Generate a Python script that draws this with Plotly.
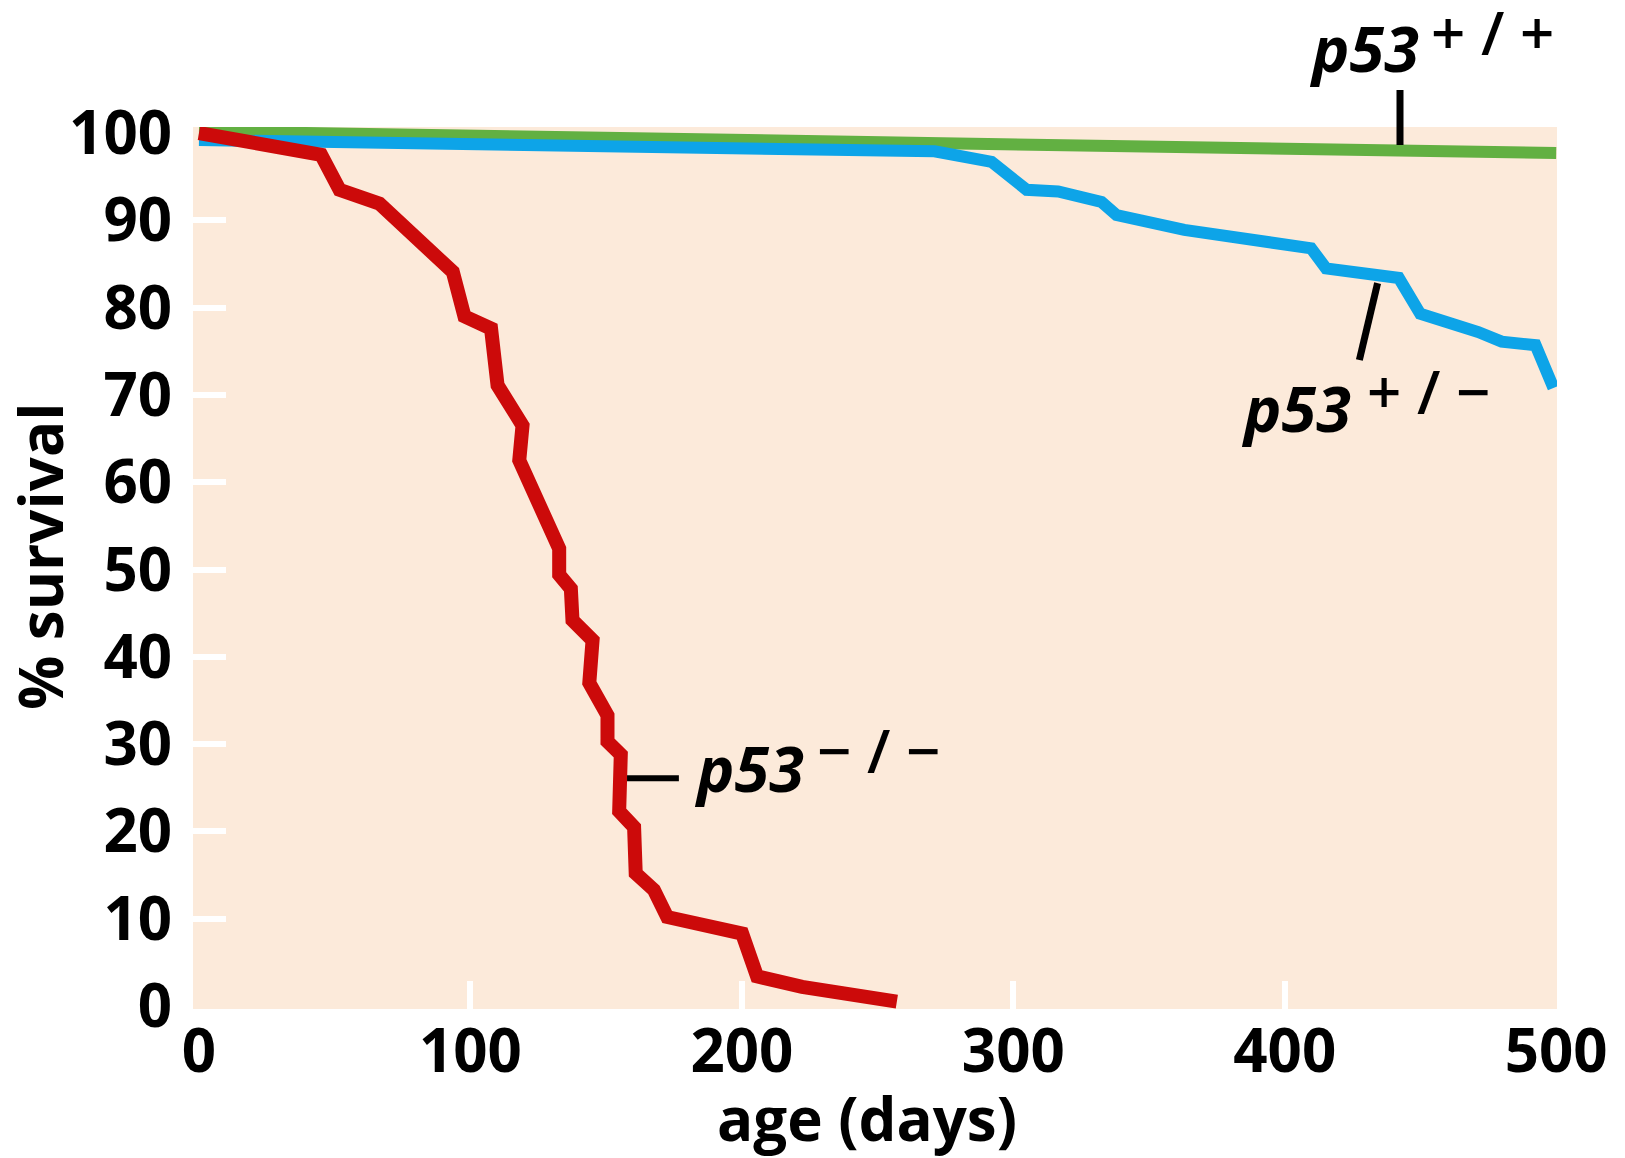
import plotly.graph_objects as go

# ---- data ----
red_days = [0, 45, 51.8, 66.5, 93.5, 97.8, 107.6, 110, 119.2, 118, 132.7, 132.7, 137, 137.6,
            145, 143.8, 150.5, 150.5, 155.4, 154.8, 160.3, 160.9, 167.6, 172.5, 200.1,
            205.6, 222.2, 257.1]
red_surv = [100, 97.5, 93.5, 91.9, 84.1, 79.0, 77.6, 71.1, 66.5, 62.5, 52.4, 49.4, 47.8, 44.2,
            41.9, 37.0, 33.3, 30.3, 28.8, 22.3, 20.5, 15.2, 13.3, 10.2, 8.3,
            3.4, 2.2, 0.5]

blue_days = [0, 190, 271, 292, 304.9, 316.5, 332.5, 338, 363, 409.7, 415.2, 442, 449.9,
             471.3, 479.9, 492.4, 499]
blue_surv = [99.2, 98.3, 97.9, 96.7, 93.5, 93.3, 92.1, 90.6, 88.9, 86.8, 84.5, 83.4, 79.3,
             77.2, 76.1, 75.7, 70.8]

green_days = [0, 500]
green_surv = [100.2, 97.7]

x_ticks = [0, 100, 200, 300, 400, 500]
y_ticks = [0, 10, 20, 30, 40, 50, 60, 70, 80, 90, 100]
x_minor = [100, 200, 300, 400]
y_minor = [10, 20, 30, 40, 50, 60, 70, 80, 90]

RED = "#CC0A0A"
BLUE = "#0DA4E8"
GREEN = "#62B042"
PEACH = "#FCEADA"
FONT = "Open Sans"

fig = go.Figure()
fig.add_trace(go.Scatter(x=green_days, y=green_surv, mode="lines",
                         line=dict(color=GREEN, width=12), hoverinfo="skip"))
fig.add_trace(go.Scatter(x=blue_days, y=blue_surv, mode="lines",
                         line=dict(color=BLUE, width=12), hoverinfo="skip"))
fig.add_trace(go.Scatter(x=red_days, y=red_surv, mode="lines",
                         line=dict(color=RED, width=14), hoverinfo="skip"))

tickfont = dict(family=FONT, size=60, color="black", weight=700)

# page body has an 8px margin, so the figure is drawn 8px in from the top-left
fig.update_layout(
    width=1617, height=1150,
    margin=dict(l=185, r=68, t=119, b=149, pad=0),
    paper_bgcolor="white", plot_bgcolor=PEACH,
    showlegend=False,
    xaxis=dict(range=[-2.2, 500.3], tickmode="array", tickvals=x_ticks,
               ticktext=[str(v) for v in x_ticks], ticks="", showgrid=False,
               zeroline=False, showline=False, tickfont=tickfont,
               ticklabelstandoff=2, automargin=False,
               minor=dict(tickmode="array", tickvals=x_minor, ticks="inside",
                          ticklen=28, tickwidth=6, tickcolor="white", showgrid=False)),
    yaxis=dict(range=[-0.34, 100.69], tickmode="array", tickvals=y_ticks,
               ticktext=[str(v) for v in y_ticks], ticks="", showgrid=False,
               zeroline=False, showline=False, tickfont=tickfont,
               ticklabelstandoff=20, automargin=False,
               minor=dict(tickmode="array", tickvals=y_minor, ticks="inside",
                          ticklen=33, tickwidth=6, tickcolor="white", showgrid=False)),
)

# axis titles
fig.add_annotation(text="<b>age (days)</b>", xref="paper", yref="paper",
                   x=0.494, y=-0.124, xanchor="center", yanchor="middle",
                   showarrow=False, font=dict(family=FONT, size=60, color="black"))
fig.add_annotation(text="<b>% survival</b>", xref="paper", yref="paper",
                   x=-0.1127, y=0.513, xanchor="center", yanchor="middle", textangle=-90,
                   showarrow=False, font=dict(family=FONT, size=60, color="black"))

# genotype labels
lab_font = dict(family=FONT, size=63, color="black")
sup_font = dict(family=FONT, size=60, color="black", weight=600)


def px(fx):
    return (fx - 193) / 1364.0


def py(fy):
    return (1009 - fy) / 882.0


def label(x, y, sup, sx, sy):
    fig.add_annotation(text="<b><i>p53</i></b>", xref="paper", yref="paper",
                       x=px(x), y=py(y), xanchor="left", yanchor="middle",
                       showarrow=False, font=lab_font)
    fig.add_annotation(text=sup, xref="paper", yref="paper",
                       x=px(sx), y=py(sy), xanchor="left", yanchor="middle",
                       showarrow=False, font=sup_font)


label(1307, 48, "+ / +", 1429, 32)
label(1239, 407, "+ / \u2212", 1365, 391)
label(692, 767, "\u2212 / \u2212", 815, 750)

# pointer lines
fig.add_shape(type="line", xref="paper", yref="paper",
              x0=px(1400), x1=px(1400), y0=py(145), y1=py(90),
              line=dict(color="black", width=7))
fig.add_shape(type="line", xref="x", yref="y", x0=434.2, x1=427.5, y0=82.8, y1=74.0,
              line=dict(color="black", width=7))
fig.add_shape(type="line", xref="x", yref="y", x0=157.7, x1=176.8, y0=26.1, y1=26.1,
              line=dict(color="black", width=6))

fig.write_html("out.html")
